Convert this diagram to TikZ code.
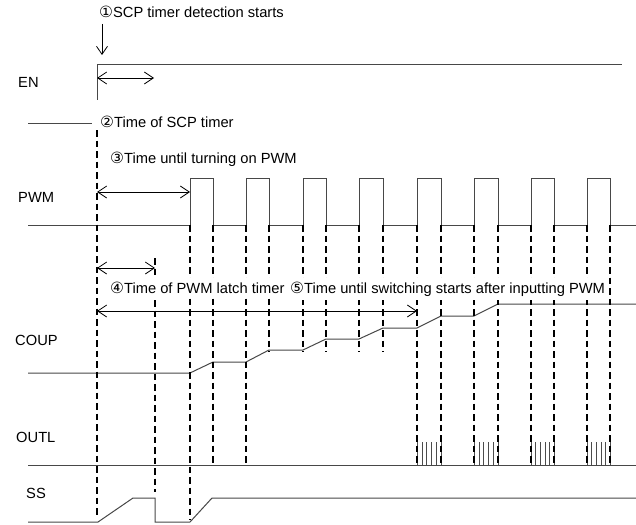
\documentclass[tikz,border=0pt]{standalone}
\usepackage{fontspec}
\setmainfont{Liberation Sans}
\newfontfamily\circfont{DejaVu Sans}
\usetikzlibrary{arrows.meta}
\begin{document}
\begin{tikzpicture}[x=1pt,y=-1pt,
  wave/.style={draw=black!72, line width=1pt},
  guide/.style={draw=black, line width=1.7pt, dash pattern=on 6.5pt off 4pt},
  dimline/.style={draw=black, line width=0.8pt, {Straight Barb[length=9pt,width=12pt]}-{Straight Barb[length=9pt,width=12pt]}},
  downarrow/.style={draw=black, line width=0.8pt, -{Straight Barb[length=8pt,width=11pt]}},
  txt/.style={font=\fontsize{14.7}{16}\selectfont, anchor=base west, inner sep=0pt},
  note/.style={font=\fontsize{14.7}{16}\selectfont, anchor=base west, fill=white, inner xsep=3pt, inner ysep=4pt},
  burst/.style={draw=black!70, line width=0.5pt}]
\useasboundingbox (0,0) rectangle (636,524);
\def\cd#1{{\circfont\fontsize{15.5}{16}\selectfont #1}}
% signal labels
\node[txt] (lEN) at (18,88) {EN};
\node[txt] (lPWM) at (18,202) {PWM};
\node[txt] (lCOUP) at (15,345) {COUP};
\node[txt] (lOUTL) at (16,442) {OUTL};
\node[txt] (lSS) at (26,498) {SS};
% annotations
\node[txt] (n1) at (99,18) {\cd{①}SCP timer detection starts};
\node[txt] (n2) at (100,128) {\cd{②}Time of SCP timer};
\node[txt] (n3) at (110,163) {\cd{③}Time until turning on PWM};
% EN waveform
\draw[wave] (28,123) -- (92,123);
\draw[wave] (97,100) -- (97,65) -- (622,65);
% PWM waveform
\draw[wave] (28,225)
  \foreach \a/\b in {190/213,246/269,303/326,359/383,417/441,474/498,531/554,587/610}
  { -- (\a,225) -- (\a,178) -- (\b,178) -- (\b,225) } -- (636,225);
% COUP waveform
\draw[wave] (28,373) -- (190,373) -- (213,362) -- (246,362) -- (269,350) -- (303,350)
  -- (326,339) -- (359,339) -- (383,328) -- (417,328) -- (441,316) -- (474,316)
  -- (498,304) -- (636,304);
% OUTL waveform
\draw[wave] (28,465) -- (636,465);
\foreach \a/\b in {417/441,474/498,531/554,587/610}{
  \foreach \k in {0,...,5}{
    \draw[burst] ({\a+\k*(\b-\a)/5},442) -- ({\a+\k*(\b-\a)/5},465);
  }
}
% SS waveform
\draw[wave] (28,522) -- (98,522) -- (133,498) -- (155,498) -- (155,522) -- (190,522)
  -- (212,498) -- (636,498);
% dashed guides
\draw[guide] (97,130) -- (97,518);
\draw[guide] (155,258) -- (155,492);
\draw[guide] (190,225) -- (190,520);
\foreach \x in {213,246}{ \draw[guide] (\x,225) -- (\x,465); }
\foreach \x in {269,303,326,359,383}{ \draw[guide] (\x,225) -- (\x,352); }
\foreach \x in {417,441,474,498,531,554,587,610}{ \draw[guide] (\x,225) -- (\x,466); }
% row 4/5 labels (white boxes over the guides)
\node[note] (n4) at (107,293) {\cd{④}Time of PWM latch timer};
\node[note] (n5) at (287,293) {\cd{⑤}Time until switching starts after inputting PWM};
% dimension arrows
\coordinate (a1s) at (102,24); \coordinate (a1e) at (102,55);
\draw[downarrow] (a1s) -- (a1e);
\coordinate (enL) at (97,78); \coordinate (enR) at (154,78);
\draw[dimline] (enL) -- (enR);
\coordinate (pwL) at (97,192); \coordinate (pwR) at (190,192);
\draw[dimline] (pwL) -- (pwR);
\coordinate (ltL) at (97,268); \coordinate (ltR) at (155,268);
\draw[dimline] (ltL) -- (ltR);
\coordinate (swL) at (97,311); \coordinate (swR) at (417,311);
\draw[dimline] (swL) -- (swR);
\end{tikzpicture}
\end{document}
